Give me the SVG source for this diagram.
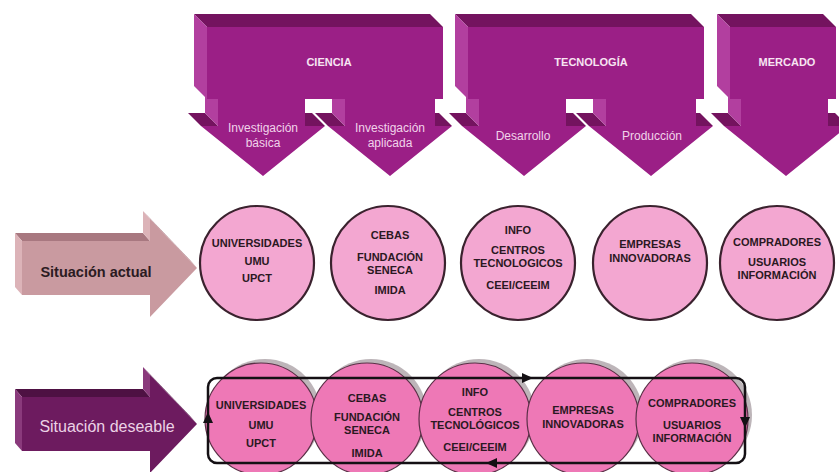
<svg xmlns="http://www.w3.org/2000/svg" xmlns:xlink="http://www.w3.org/1999/xlink" width="839" height="472" viewBox="0 0 839 472">
<style>
text{font-family:"Liberation Sans",Arial,sans-serif;text-anchor:middle}
.hdr{font-weight:bold;font-size:11px;fill:#f7e4f2}
.sub{font-size:12px;fill:#f1d3ea}
.ct{font-weight:bold;font-size:11px;fill:#2a1822}
.c1{fill:#f3a7d1;stroke:#3a222e;stroke-width:2.2}
.c2{fill:#ee78b6;stroke:#5b2f47;stroke-width:1.2}
.sh{fill:#bdb5b9}
.front{fill:#9b1f86}
.top{fill:#74135f}
.left{fill:#b23f9f}
.aF{fill:#c99aa0}.aT{fill:#a87880}.aL{fill:#dcb3b8}
.dF{fill:#6d1b5f}.dT{fill:#4e1143}.dL{fill:#8a3a7c}
.loop{fill:none;stroke:#141014;stroke-width:2.5}
.ah{fill:#141014}
</style>
<defs>
<g id="pair">
<polygon class="top" points="194,14 430,14 443,27 207,27"/>
<polygon class="top" points="188,113 205,113 218,126 201,126"/>
<polygon class="top" points="292,113 312,113 325,126 305,126"/>
<polygon class="top" points="315,113 332,113 345,126 328,126"/>
<polygon class="top" points="422,113 439,113 452,126 435,126"/>
<polygon class="left" points="194,14 207,27 207,99 194,86"/>
<polygon class="left" points="205,86 218,99 218,126 205,113"/>
<polygon class="left" points="332,86 345,99 345,126 332,113"/>
<polygon class="front" points="207,27 443,27 443,99 435,99 435,126 452,126 390,176 328,126 345,126 345,99 305,99 305,126 325,126 263,176 201,126 218,126 218,99 207,99"/>
</g>
</defs>
<rect width="839" height="472" fill="#ffffff"/>

<g id="ciencia">
<use xlink:href="#pair"/>
<text class="hdr" x="329" y="66">CIENCIA</text>
<text class="sub" x="263" y="132">Investigación</text>
<text class="sub" x="263" y="147">básica</text>
<text class="sub" x="390" y="132">Investigación</text>
<text class="sub" x="390" y="147">aplicada</text>
</g>

<g id="tecnologia">
<use xlink:href="#pair" x="261"/>
<text class="hdr" x="591" y="66">TECNOLOGÍA</text>
<text class="sub" x="523" y="140">Desarrollo</text>
<text class="sub" x="652" y="140">Producción</text>
</g>

<g id="mercado">
<polygon class="top" points="717,14 823,14 836,27 730,27"/>
<polygon class="top" points="711,113 728,113 741,126 724,126"/>
<polygon class="top" points="815,113 835,113 848,126 828,126"/>
<polygon class="left" points="717,14 730,27 730,99 717,86"/>
<polygon class="left" points="728,86 741,99 741,126 728,113"/>
<polygon class="front" points="730,27 836,27 836,99 828,99 828,126 848,126 786,176 724,126 741,126 741,99 730,99"/>
<text class="hdr" x="787" y="66">MERCADO</text>
</g>

<g id="situacion-actual">
<polygon class="aT" points="15,233 143,233 150,241 22,241"/>
<polygon class="aT" points="143,211 190,260 197,268 150,219"/>
<polygon class="aL" points="15,233 22,241 22,295 15,287"/>
<polygon class="aL" points="143,211 150,219 150,241 143,233"/>
<polygon class="aF" points="22,241 150,241 150,219 197,268 150,317 150,295 22,295"/>
<text x="96" y="277" style="font-weight:bold;font-size:14.5px;fill:#2b1b22">Situación actual</text>
</g>

<g id="situacion-deseable">
<polygon class="dT" points="15,389 143,389 150,397 22,397"/>
<polygon class="dT" points="143,367 190,416 197,424 150,375"/>
<polygon class="dL" points="15,389 22,397 22,451 15,443"/>
<polygon class="dL" points="143,367 150,375 150,397 143,389"/>
<polygon class="dF" points="22,397 150,397 150,375 197,424 150,473 150,451 22,451"/>
<text x="107" y="432" style="font-size:16px;fill:#ecd2e6">Situación deseable</text>
</g>

<g id="actual-universidades">
<circle class="c1" cx="257" cy="263" r="57"/>
<text class="ct" x="257" y="246.5">UNIVERSIDADES</text>
<text class="ct" x="257" y="264.5">UMU</text>
<text class="ct" x="257" y="281.5">UPCT</text>
</g>
<g id="actual-cebas">
<circle class="c1" cx="388" cy="263" r="57"/>
<text class="ct" x="390" y="238.5">CEBAS</text>
<text class="ct" x="390" y="260.5">FUNDACIÓN</text>
<text class="ct" x="390" y="273.5">SENECA</text>
<text class="ct" x="390" y="293.5">IMIDA</text>
</g>
<g id="actual-info">
<circle class="c1" cx="518" cy="263" r="57"/>
<text class="ct" x="518" y="233.5">INFO</text>
<text class="ct" x="518" y="253.5">CENTROS</text>
<text class="ct" x="518" y="266.5">TECNOLOGICOS</text>
<text class="ct" x="518" y="288.5">CEEI/CEEIM</text>
</g>
<g id="actual-empresas">
<circle class="c1" cx="650" cy="263" r="57"/>
<text class="ct" x="650" y="247.5">EMPRESAS</text>
<text class="ct" x="650" y="261.5">INNOVADORAS</text>
</g>
<g id="actual-compradores">
<circle class="c1" cx="777" cy="263" r="57"/>
<text class="ct" x="777" y="245.5">COMPRADORES</text>
<text class="ct" x="777" y="265.5">USUARIOS</text>
<text class="ct" x="777" y="278.5">INFORMACIÓN</text>
</g>

<g id="deseable-universidades">
<circle class="sh" cx="265" cy="415" r="56"/>
<circle class="c2" cx="261" cy="419" r="56"/>
<text class="ct" x="261" y="408.5">UNIVERSIDADES</text>
<text class="ct" x="261" y="428.5">UMU</text>
<text class="ct" x="261" y="446.5">UPCT</text>
</g>
<g id="deseable-cebas">
<circle class="sh" cx="371" cy="415" r="56"/>
<circle class="c2" cx="367" cy="419" r="56"/>
<text class="ct" x="367" y="401.5">CEBAS</text>
<text class="ct" x="367" y="420.5">FUNDACIÓN</text>
<text class="ct" x="367" y="433.5">SENECA</text>
<text class="ct" x="367" y="456.5">IMIDA</text>
</g>
<g id="deseable-info">
<circle class="sh" cx="479" cy="415" r="56"/>
<circle class="c2" cx="475" cy="419" r="56"/>
<text class="ct" x="475" y="395.5">INFO</text>
<text class="ct" x="475" y="415.5">CENTROS</text>
<text class="ct" x="475" y="428.5">TECNOLÓGICOS</text>
<text class="ct" x="475" y="450.5">CEEI/CEEIM</text>
</g>
<g id="deseable-empresas">
<circle class="sh" cx="587" cy="415" r="56"/>
<circle class="c2" cx="583" cy="419" r="56"/>
<text class="ct" x="583" y="413.5">EMPRESAS</text>
<text class="ct" x="583" y="427.5">INNOVADORAS</text>
</g>
<g id="deseable-compradores">
<circle class="sh" cx="696" cy="415" r="56"/>
<circle class="c2" cx="692" cy="419" r="56"/>
<text class="ct" x="692" y="406.5">COMPRADORES</text>
<text class="ct" x="692" y="428.5">USUARIOS</text>
<text class="ct" x="692" y="441.5">INFORMACIÓN</text>
</g>

<g id="connectors">
<rect class="loop" x="208" y="378" width="537" height="85" rx="9"/>
<polygon class="ah" points="533,378 522,373 522,383"/>
<polygon class="ah" points="745,428 740,417 750,417"/>
<polygon class="ah" points="486,463 497,458 497,468"/>
<polygon class="ah" points="208,412 203,423 213,423"/>
</g>
</svg>
